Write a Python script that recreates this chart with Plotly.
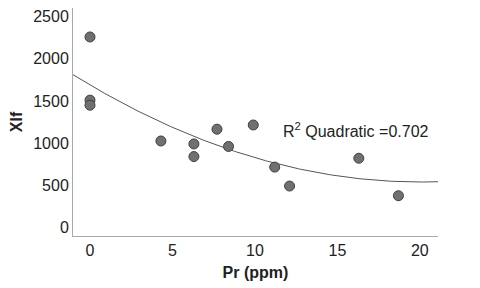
import numpy as np
import plotly.graph_objects as go

pr_ppm = [0, 0, 0, 4.3, 6.3, 6.3, 7.7, 8.4, 9.9, 11.2, 12.1, 16.3, 18.7]
xlf = [2260, 1510, 1450, 1025, 990, 840, 1165, 960, 1215, 715, 490, 820, 375]
x_ticks = [0, 5, 10, 15, 20]
y_ticks = [0, 500, 1000, 1500, 2000, 2500]
x_range = [-1.03, 21.1]
y_range = [-103, 2604]
r2_label = "R<sup>2</sup> Quadratic =0.702"

coef = np.polyfit(pr_ppm, xlf, 2)
xf = np.linspace(x_range[0], x_range[1], 200)
yf = np.polyval(coef, xf)

font = "Liberation Sans, Arial, sans-serif"
fig = go.Figure()
fig.add_trace(go.Scatter(x=xf, y=yf, mode="lines",
                         line=dict(color="#555555", width=1), hoverinfo="skip"))
fig.add_trace(go.Scatter(x=pr_ppm, y=xlf, mode="markers",
                         marker=dict(size=10, color="#707070",
                                     line=dict(color="#404040", width=1))))
fig.add_annotation(x=16.1, y=1155, text=r2_label, showarrow=False,
                   font=dict(family=font, size=16, color="#222222"))
fig.update_layout(
    width=472, height=280, showlegend=False,
    paper_bgcolor="white", plot_bgcolor="white",
    margin=dict(l=65, r=42, t=0, b=52),
    font=dict(family=font, size=16, color="#222222"),
    xaxis=dict(range=x_range, tickvals=x_ticks, showgrid=False, zeroline=False,
               showline=True, linecolor="#aaaaaa", linewidth=1, ticks="",
               automargin=False,
               title=dict(text="<b>Pr (ppm)</b>", font=dict(size=16), standoff=8)),
    yaxis=dict(range=y_range, tickvals=y_ticks, showgrid=False, zeroline=False,
               showline=True, linecolor="#aaaaaa", linewidth=1, ticks="",
               automargin=False,
               title=dict(text="<b>Xlf</b>", font=dict(size=16), standoff=6)),
)
fig.write_html("out.html")
